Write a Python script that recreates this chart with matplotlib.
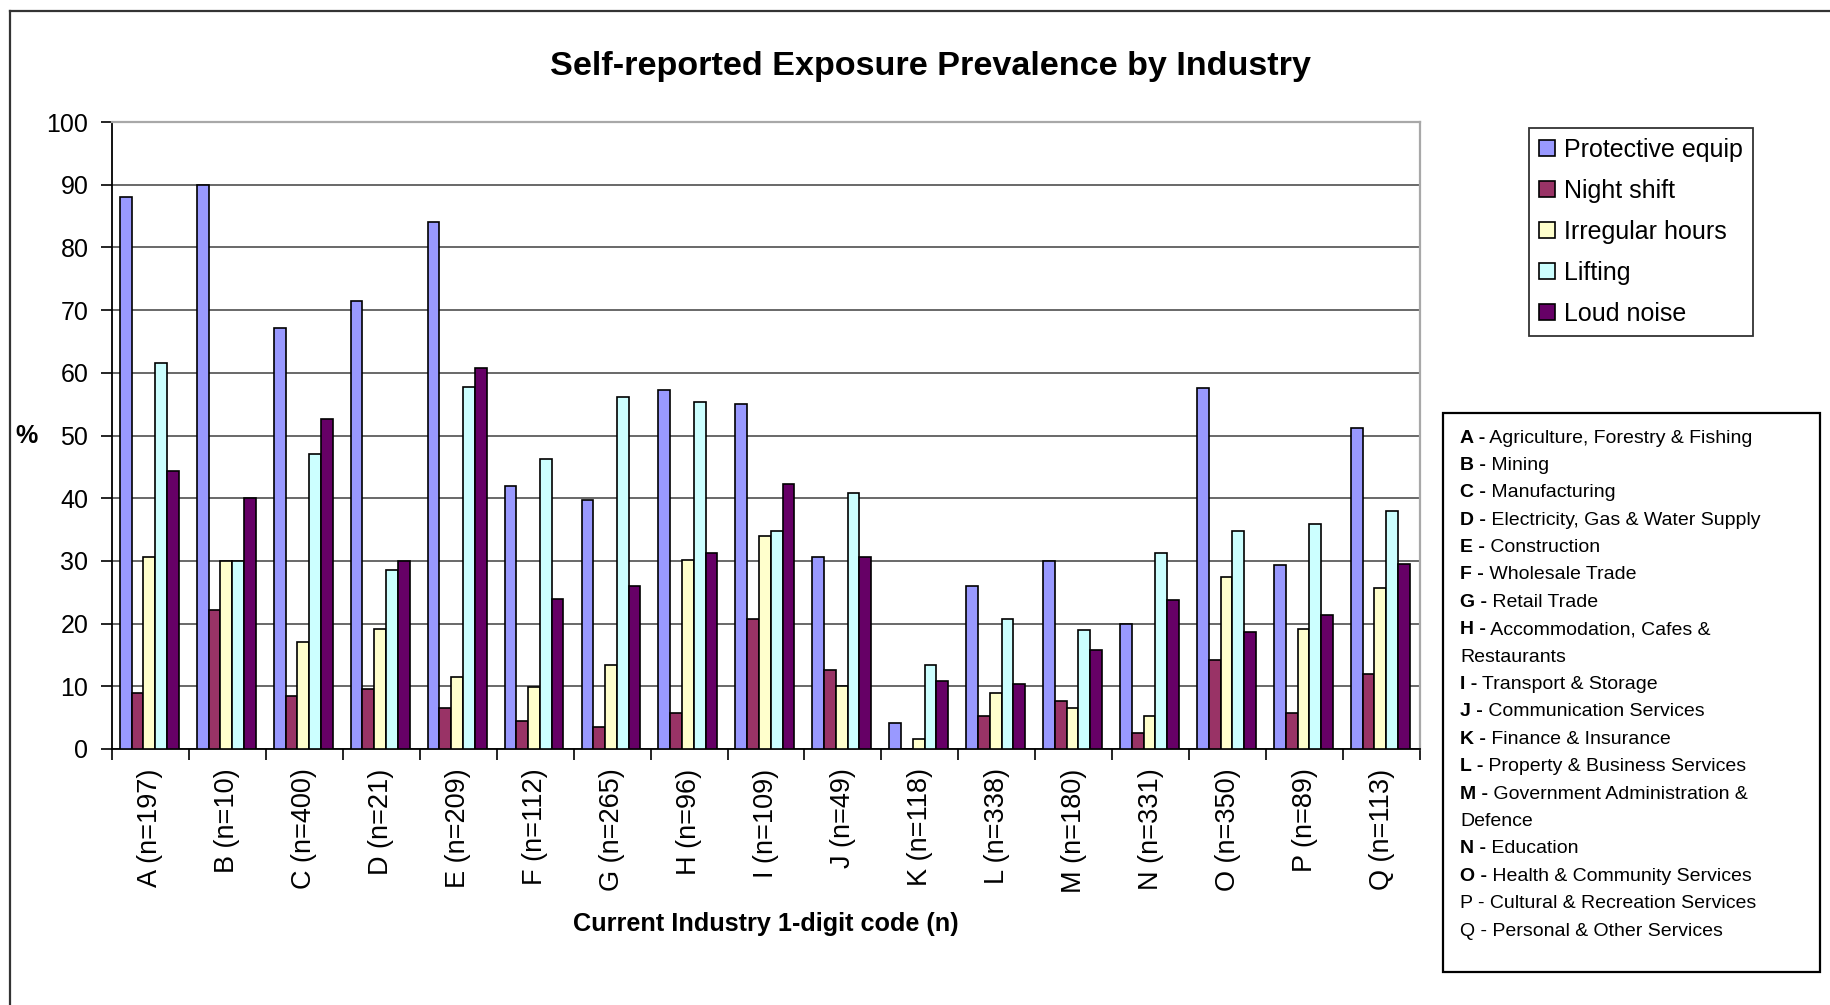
import numpy as np
import matplotlib
matplotlib.use('Agg')
import matplotlib.pyplot as plt
from matplotlib.patches import Rectangle
from matplotlib.lines import Line2D

plt.rcParams['font.family'] = ['Liberation Sans', 'DejaVu Sans']

# Industry codes with sample sizes
categories = ['A (n=197)', 'B (n=10)', 'C (n=400)', 'D (n=21)', 'E (n=209)',
              'F (n=112)', 'G (n=265)', 'H (n=96)', 'I (n=109)', 'J (n=49)',
              'K (n=118)', 'L (n=338)', 'M (n=180)', 'N (n=331)', 'O (n=350)',
              'P (n=89)', 'Q (n=113)']

# Prevalence (%) per exposure
protective = [88.0, 90.0, 67.2, 71.5, 84.1, 41.9, 39.7, 57.2, 55.0, 30.7, 4.1, 26.0, 30.0, 20.0, 57.5, 29.3, 51.2]
night_shift = [9.0, 22.1, 8.4, 9.6, 6.6, 4.4, 3.5, 5.7, 20.8, 12.6, 0.0, 5.2, 7.7, 2.5, 14.2, 5.8, 12.0]
irregular = [30.6, 30.0, 17.0, 19.1, 11.5, 9.9, 13.4, 30.1, 34.0, 10.1, 1.6, 9.0, 6.6, 5.2, 27.4, 19.1, 25.7]
lifting = [61.6, 30.0, 47.1, 28.5, 57.8, 46.3, 56.2, 55.3, 34.8, 40.8, 13.4, 20.8, 18.9, 31.2, 34.8, 35.9, 38.0]
loud_noise = [44.4, 40.0, 52.6, 30.0, 60.8, 24.0, 26.0, 31.2, 42.2, 30.7, 10.9, 10.3, 15.8, 23.8, 18.6, 21.3, 29.5]

series_names = ['Protective equip', 'Night shift', 'Irregular hours', 'Lifting', 'Loud noise']
series_colors = ['#9999FF', '#993366', '#FFFFCC', '#CCFFFF', '#660066']

# Key for the industry letters: (bold prefix, rest of line)
industry_key = [
    ('A -', ' Agriculture, Forestry & Fishing'),
    ('B -', ' Mining'),
    ('C -', ' Manufacturing'),
    ('D -', ' Electricity, Gas & Water Supply'),
    ('E -', ' Construction'),
    ('F -', ' Wholesale Trade'),
    ('G -', ' Retail Trade'),
    ('H -', ' Accommodation, Cafes &'),
    ('', 'Restaurants'),
    ('I -', ' Transport & Storage'),
    ('J -', ' Communication Services'),
    ('K -', ' Finance & Insurance'),
    ('L -', ' Property & Business Services'),
    ('M -', ' Government Administration &'),
    ('', 'Defence'),
    ('N -', ' Education'),
    ('O -', ' Health & Community Services'),
    ('', 'P - Cultural & Recreation Services'),
    ('', 'Q - Personal & Other Services'),
]

W, H = 1830, 1005
fig = plt.figure(figsize=(W / 100, H / 100), dpi=100)


def fx(px):
    return px / W


def fy(py):
    return 1 - py / H


# plot area
ax = fig.add_axes([fx(112), fy(749), fx(1420) - fx(112), fy(122) - fy(749)])

series = [protective, night_shift, irregular, lifting, loud_noise]
x = np.arange(len(categories))
bar_w = 0.153
for i, (vals, name, col) in enumerate(zip(series, series_names, series_colors)):
    offset = (i - 2) * bar_w - 0.015
    ax.bar(x + offset, vals, bar_w, color=col, edgecolor='black',
           linewidth=1.2, label=name, zorder=3)

ax.set_xlim(-0.5, len(categories) - 0.5)
ax.set_ylim(0, 100)
ax.set_yticks(range(0, 101, 10))
ax.tick_params(axis='y', labelsize=18, length=8, width=1.2, pad=9, direction='out')

# category labels at centres, tick marks between groups
ax.set_xticks(x)
ax.set_xticklabels(categories, rotation=90, fontsize=19.5)
ax.tick_params(axis='x', which='major', length=0, pad=14)
ax.set_xticks(np.arange(-0.5, len(categories)), minor=True)
ax.tick_params(axis='x', which='minor', length=8, width=1.2, direction='out')

ax.yaxis.grid(True, color='#404040', linewidth=1.1, zorder=0)
ax.set_axisbelow(True)

for side in ['left', 'bottom']:
    ax.spines[side].set_color('black')
    ax.spines[side].set_linewidth(1.3)
for side in ['top', 'right']:
    ax.spines[side].set_color('#a8a8a8')
    ax.spines[side].set_linewidth(1.6)

fig.text(fx(931), fy(67), 'Self-reported Exposure Prevalence by Industry',
         ha='center', va='center', fontsize=24.6, fontweight='bold')
fig.text(fx(766), fy(924), 'Current Industry 1-digit code (n)',
         ha='center', va='center', fontsize=18.2, fontweight='bold')
fig.text(fx(26), fy(436), '%', ha='center', va='center', fontsize=18, fontweight='bold')

# series legend
leg = fig.legend(loc='upper left', bbox_to_anchor=(fx(1529), fy(128)),
                 fontsize=18, frameon=True, fancybox=False, borderaxespad=0,
                 handlelength=0.64, handleheight=0.64, handletextpad=0.36,
                 labelspacing=0.68, borderpad=0.4)
leg.get_frame().set_edgecolor('black')
leg.get_frame().set_linewidth(1.3)

# industry key box
fig.add_artist(Rectangle((fx(1443), fy(972)), fx(1820) - fx(1443), fy(413) - fy(972),
                         transform=fig.transFigure, fill=False,
                         edgecolor='black', linewidth=1.6))
line_y = 438
for prefix, rest in industry_key:
    if prefix:
        t = fig.text(fx(1460), fy(line_y), prefix, ha='left', va='center',
                     fontsize=14, fontweight='bold')
        fig.add_artist(matplotlib.text.Annotation(rest, xy=(1, 0.5), xycoords=t,
                                                  ha='left', va='center', fontsize=14))
    else:
        fig.text(fx(1460), fy(line_y), rest, ha='left', va='center', fontsize=14)
    line_y += 27.4

# outer chart frame (left and top edges)
fig.add_artist(Line2D([fx(10), fx(10)], [0, fy(11)], color='#333333', linewidth=1.6))
fig.add_artist(Line2D([fx(10), 1], [fy(11), fy(11)], color='#333333', linewidth=1.6))

fig.savefig('out.png', dpi=100)
